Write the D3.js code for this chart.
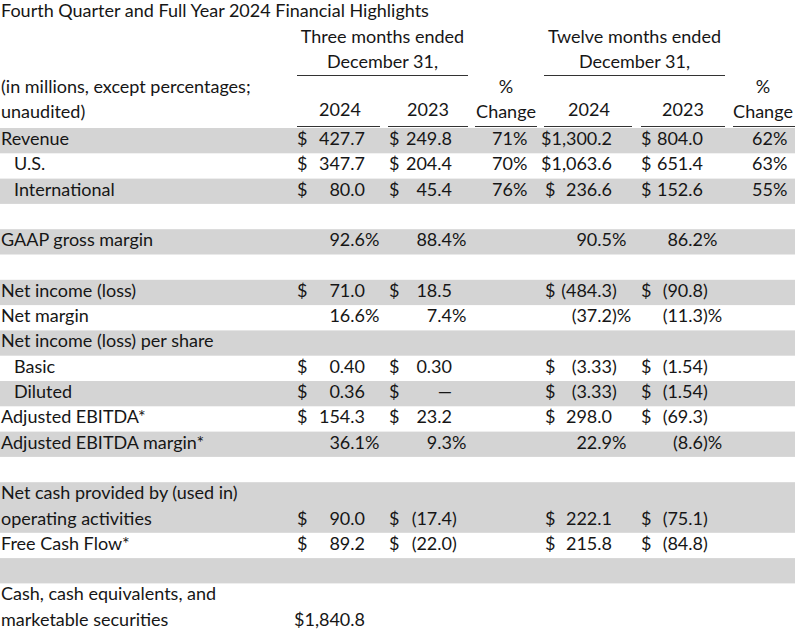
<!DOCTYPE html>
<html><head><meta charset="utf-8">
<script src="https://cdn.jsdelivr.net/npm/d3@7"></script>
<style>
body{margin:0;background:#fff}
svg{display:block}
text{font-family:Lato,"Open Sans",sans-serif;font-size:18px;fill:#161616}
</style>
</head><body>
<svg id="c" width="800" height="635"></svg>
<script>
// ---------- data ----------
const title = "Fourth Quarter and Full Year 2024 Financial Highlights";
const groupHeaders = [["Three months ended","December 31,"],["Twelve months ended","December 31,"]];
const stubHeader = ["(in millions, except percentages;","unaudited)"];
const columnHeaders = [["","2024"],["","2023"],["%","Change"],["","2024"],["","2023"],["%","Change"]];

const rowLabels = [["Revenue"],["U.S."],["International"],[""],["GAAP gross margin"],[""],
  ["Net income (loss)"],["Net margin"],["Net income (loss) per share"],["Basic"],["Diluted"],
  ["Adjusted EBITDA*"],["Adjusted EBITDA margin*"],[""],
  ["Net cash provided by (used in)","operating activities"],["Free Cash Flow*"],[""],
  ["Cash, cash equivalents, and","marketable securities"]];
const rowIndent = [0,1,1,0,0,0,0,0,0,1,1,0,0,0,0,0,0,0];
const rowKind = ["usd","usd","usd","","pct","","usd","pct","","eps","eps","usd","pct","","usd","usd","","usd"];

const q4_2024   = [427.7,347.7,80.0,null,92.6,null,71.0,16.6,null,0.40,0.36,154.3,36.1,null,90.0,89.2,null,1840.8];
const q4_2023   = [249.8,204.4,45.4,null,88.4,null,18.5,7.4,null,0.30,0,23.2,9.3,null,-17.4,-22.0,null,null];
const q4_change = [71,70,76,null,null,null,null,null,null,null,null,null,null,null,null,null,null,null];
const fy_2024   = [1300.2,1063.6,236.6,null,90.5,null,-484.3,-37.2,null,-3.33,-3.33,298.0,22.9,null,222.1,215.8,null,null];
const fy_2023   = [804.0,651.4,152.6,null,86.2,null,-90.8,-11.3,null,-1.54,-1.54,-69.3,-8.6,null,-75.1,-84.8,null,null];
const fy_change = [62,63,55,null,null,null,null,null,null,null,null,null,null,null,null,null,null,null];

const columns = [q4_2024,q4_2023,q4_change,fy_2024,fy_2023,fy_change];
const isChange = [false,false,true,false,false,true];

// ---------- layout ----------
const svg = d3.select("#c");
const colKeys = d3.range(6);
const numRight = d3.scaleOrdinal().domain(colKeys).range([365,452,513,612,703,773]);
const dollarX  = d3.scaleOrdinal().domain(colKeys).range([297,389,null,545,641,null]);
const ulStart  = d3.scaleOrdinal().domain(colKeys).range([297,388,475,544,641,733]);
const ulEnd    = d3.scaleOrdinal().domain(colKeys).range([380,468,537,632,725,795]);
const headCx   = d3.scaleOrdinal().domain(colKeys).range([340,428,506,589,683,763]);

const units = rowLabels.map(l => Math.max(1,l.length));
const starts = d3.cumsum([0,...units]);
const totalUnits = d3.sum(units);
const y = d3.scaleLinear().domain([0,totalUnits]).range([128,128+totalUnits*25.3]);
const baseOff = 17;

// title
svg.append("text").attr("x",1).attr("y",17).text(title);

// group headers
[[297,468],[544,725]].forEach((r,i)=>{
  const cx=(r[0]+r[1])/2;
  groupHeaders[i].forEach((t,j)=>svg.append("text").attr("x",cx).attr("y",43+j*24.5)
    .attr("text-anchor","middle").text(t));
  svg.append("line").attr("x1",r[0]).attr("x2",r[1]).attr("y1",75.5).attr("y2",75.5)
    .attr("stroke","#333").attr("stroke-width",1.2);
});
stubHeader.forEach((t,j)=>svg.append("text").attr("x",1).attr("y",93+j*25).text(t));
colKeys.forEach(c=>{
  const h=columnHeaders[c];
  if(h[0]) svg.append("text").attr("x",headCx(c)).attr("y",93).attr("text-anchor","middle").text(h[0]);
  svg.append("text").attr("x",headCx(c)).attr("y",isChange[c]?118:116).attr("text-anchor","middle").text(h[1]);
  svg.append("line").attr("x1",ulStart(c)).attr("x2",ulEnd(c)).attr("y1",126.5).attr("y2",126.5)
    .attr("stroke","#333").attr("stroke-width",1.2);
});

// row bands
const rows = svg.append("g");
rowLabels.forEach((lab,i)=>{
  if(i%2===0) rows.append("rect").attr("x",0).attr("width",795)
    .attr("y",y(starts[i])).attr("height",y(starts[i]+units[i])-y(starts[i])).attr("fill","#d4d4d4");
});

// labels
rowLabels.forEach((lab,i)=>{
  lab.forEach((t,j)=>{ if(t) svg.append("text").attr("x",rowIndent[i]?14:1)
    .attr("y",y(starts[i]+j)+baseOff).text(t); });
});

// values
const f1 = d3.format(",.1f"), f2 = d3.format(",.2f"), f0 = d3.format("d");
columns.forEach((col,c)=>{
  col.forEach((v,i)=>{
    if(v===null||v===undefined) return;
    const kind = rowKind[i];
    const by = y(starts[i]+units[i]-1)+baseOff;
    const xr = numRight(c);
    if(isChange[c]){
      svg.append("text").attr("x",xr).attr("y",by).attr("text-anchor","end").text(f0(v));
      svg.append("text").attr("x",xr).attr("y",by).text("%");
      return;
    }
    const hasDollar = (kind==="usd"||kind==="eps");
    let dollar = null;
    if(hasDollar) dollar = svg.append("text").attr("x",dollarX(c)).attr("y",by).text("$");
    if(v===0){
      svg.append("text").attr("x",xr).attr("y",by).attr("text-anchor","end").text("—");
      return;
    }
    const fmt = kind==="eps"?f2:f1;
    const neg = v<0;
    const numStr = (neg?"(":"")+fmt(Math.abs(v));
    const num = svg.append("text").attr("x",xr).attr("y",by).attr("text-anchor","end").text(numStr);
    if(dollar){
      const dw = dollar.node().getComputedTextLength();
      const nw = num.node().getComputedTextLength();
      if(xr - nw < dollarX(c) + dw + 2){
        dollar.remove();
        num.text("$"+numStr);
      }
    }
    const suf = (neg?")":"")+(kind==="pct"?"%":"");
    if(suf) svg.append("text").attr("x",xr).attr("y",by).text(suf);
  });
});
</script>
</body></html>
